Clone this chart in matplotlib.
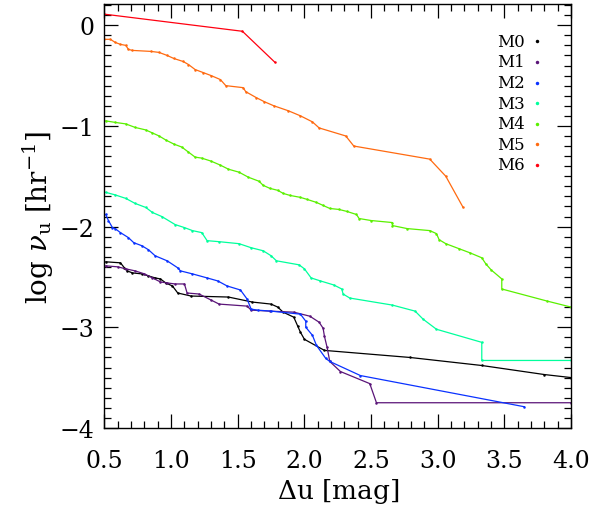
import numpy as np
import matplotlib
matplotlib.use("Agg")
import matplotlib.pyplot as plt
from matplotlib.ticker import MultipleLocator

plt.rcParams["font.family"] = ["DejaVu Serif"]
plt.rcParams["mathtext.fontset"] = "dejavuserif"

# 各组曲线 (Δu, log ν_u)
m0_x = [0.51, 0.62, 0.65, 0.67, 0.71, 0.78, 0.83, 0.88, 0.92, 0.96, 1.01, 1.05, 1.15, 1.43,
        1.61, 1.75, 1.80, 1.84, 1.92, 1.95, 1.97, 2.00, 2.15, 2.79, 3.33, 3.80, 4.00]
m0_y = [-2.35, -2.36, -2.41, -2.44, -2.46, -2.47, -2.49, -2.51, -2.52, -2.56, -2.59, -2.66, -2.69, -2.70,
        -2.75, -2.77, -2.80, -2.85, -2.90, -2.99, -3.05, -3.12, -3.23, -3.30, -3.38, -3.47, -3.50]

m1_x = [0.51, 0.60, 0.66, 0.73, 0.80, 0.86, 0.92, 0.97, 1.03, 1.10, 1.12, 1.21, 1.30, 1.36,
        1.57, 1.60, 1.74, 1.92, 2.04, 2.11, 2.14, 2.15, 2.17, 2.19, 2.27, 2.49, 2.54, 4.00]
m1_y = [-2.39, -2.40, -2.42, -2.44, -2.47, -2.51, -2.55, -2.56, -2.57, -2.57, -2.66, -2.67, -2.73, -2.77,
        -2.79, -2.83, -2.84, -2.85, -2.89, -2.95, -3.01, -3.09, -3.20, -3.34, -3.44, -3.56, -3.75, -3.75]

m2_x = [0.51, 0.53, 0.56, 0.58, 0.62, 0.68, 0.72, 0.78, 0.83, 0.88, 0.97, 1.05, 1.07, 1.16,
        1.27, 1.35, 1.42, 1.52, 1.57, 1.60, 1.65, 1.75, 1.97, 2.01, 2.01, 2.06, 2.09, 2.16,
        2.19, 2.42, 3.65]
m2_y = [-1.88, -1.94, -2.01, -2.02, -2.06, -2.11, -2.16, -2.19, -2.23, -2.29, -2.34, -2.41, -2.44, -2.47,
        -2.51, -2.54, -2.59, -2.63, -2.72, -2.82, -2.83, -2.84, -2.87, -2.94, -3.00, -3.08, -3.18, -3.31,
        -3.34, -3.48, -3.79]

m3_x = [0.51, 0.58, 0.66, 0.73, 0.81, 0.86, 0.93, 1.03, 1.10, 1.16, 1.23, 1.27, 1.36, 1.51,
        1.60, 1.69, 1.75, 1.79, 1.96, 2.00, 2.05, 2.12, 2.22, 2.28, 2.29, 2.34, 2.66, 2.83,
        2.89, 2.99, 3.33, 3.33, 4.00]
m3_y = [-1.66, -1.685, -1.72, -1.77, -1.81, -1.86, -1.90, -1.98, -2.01, -2.04, -2.06, -2.14, -2.15, -2.17,
        -2.21, -2.24, -2.29, -2.34, -2.38, -2.42, -2.51, -2.54, -2.58, -2.62, -2.67, -2.71, -2.78, -2.84,
        -2.92, -3.02, -3.15, -3.33, -3.33]

m4_x = [0.51, 0.58, 0.66, 0.73, 0.81, 0.86, 0.91, 0.96, 1.02, 1.08, 1.13, 1.18, 1.23, 1.30,
        1.37, 1.43, 1.51, 1.58, 1.66, 1.69, 1.74, 1.80, 1.84, 1.89, 1.97, 2.02, 2.09, 2.14,
        2.19, 2.26, 2.32, 2.39, 2.41, 2.50, 2.66, 2.66, 2.77, 2.94, 2.99, 3.01, 3.06, 3.16,
        3.24, 3.33, 3.36, 3.40, 3.48, 3.48, 3.82, 4.00]
m4_y = [-0.95, -0.965, -0.98, -1.015, -1.04, -1.07, -1.10, -1.14, -1.18, -1.21, -1.26, -1.31, -1.32, -1.35,
        -1.39, -1.43, -1.46, -1.51, -1.55, -1.59, -1.62, -1.64, -1.67, -1.69, -1.71, -1.73, -1.76, -1.79,
        -1.82, -1.83, -1.85, -1.88, -1.92, -1.94, -1.96, -1.99, -2.02, -2.04, -2.07, -2.13, -2.17, -2.22,
        -2.26, -2.31, -2.37, -2.43, -2.52, -2.62, -2.74, -2.80]

m5_x = [0.50, 0.545, 0.58, 0.62, 0.66, 0.68, 0.71, 0.85, 0.91, 0.97, 1.02, 1.09, 1.13, 1.18,
        1.24, 1.30, 1.37, 1.41, 1.54, 1.56, 1.64, 1.70, 1.77, 1.88, 1.97, 2.06, 2.11, 2.31,
        2.37, 2.94, 3.06, 3.19]
m5_y = [-0.14, -0.14, -0.17, -0.19, -0.20, -0.24, -0.25, -0.26, -0.27, -0.30, -0.33, -0.36, -0.39, -0.44,
        -0.47, -0.50, -0.54, -0.60, -0.62, -0.66, -0.72, -0.76, -0.80, -0.85, -0.90, -0.96, -1.02, -1.10,
        -1.20, -1.33, -1.50, -1.81]

m6_x = [0.50, 1.535, 1.78]
m6_y = [0.11, -0.06, -0.37]

labels = ["M0", "M1", "M2", "M3", "M4", "M5", "M6"]
colors = ["black", "#5a1478", "#0a32ff", "#00ff9c", "#5af000", "#ff6a10", "#ff0010"]
series = [(m0_x, m0_y), (m1_x, m1_y), (m2_x, m2_y), (m3_x, m3_y),
          (m4_x, m4_y), (m5_x, m5_y), (m6_x, m6_y)]

fig = plt.figure(figsize=(5.9, 5.1), dpi=100)
ax = fig.add_axes([0.177, 0.159, 0.791, 0.831])

for (xs, ys), c in zip(series, colors):
    ax.plot(xs, ys, color=c, lw=0.9, marker="o", ms=1.8, mew=0)

ax.set_xlim(0.5, 4.0)
ax.set_ylim(-4.0, 0.21)

ax.xaxis.set_major_locator(MultipleLocator(0.5))
ax.xaxis.set_minor_locator(MultipleLocator(0.1))
ax.yaxis.set_major_locator(MultipleLocator(1))
ax.yaxis.set_minor_locator(MultipleLocator(0.1))
ax.xaxis.set_major_formatter(plt.FuncFormatter(lambda v, p: f"{v:.1f}"))
ax.yaxis.set_major_formatter(plt.FuncFormatter(lambda v, p: f"{v:.0f}".replace("-", "\u2212")))
ax.tick_params(which="both", direction="in", top=True, right=True, labelsize=17, width=0.9)
ax.tick_params(which="major", length=10)
ax.tick_params(which="minor", length=5)
ax.tick_params(axis="x", which="major", pad=15)
ax.tick_params(axis="y", which="major", pad=7)
for s in ax.spines.values():
    s.set_linewidth(1.0)

ax.set_xlabel(r"$\Delta$u [mag]", fontsize=19, labelpad=3)
ax.set_ylabel(r"log $\nu_{\rm u}$ [hr$^{-1}$]", fontsize=20, labelpad=3)

# 图例：文字在左，圆点在右
for i, (lab, c) in enumerate(zip(labels, colors)):
    yy = 0.912 - i * 0.0486
    ax.text(0.842, yy, lab, transform=ax.transAxes, fontsize=12, va="center", ha="left")
    ax.plot([0.9265], [yy], transform=ax.transAxes, ls="none", marker="o", ms=2.5, mew=0, color=c)

fig.savefig("out.png", dpi=100)
